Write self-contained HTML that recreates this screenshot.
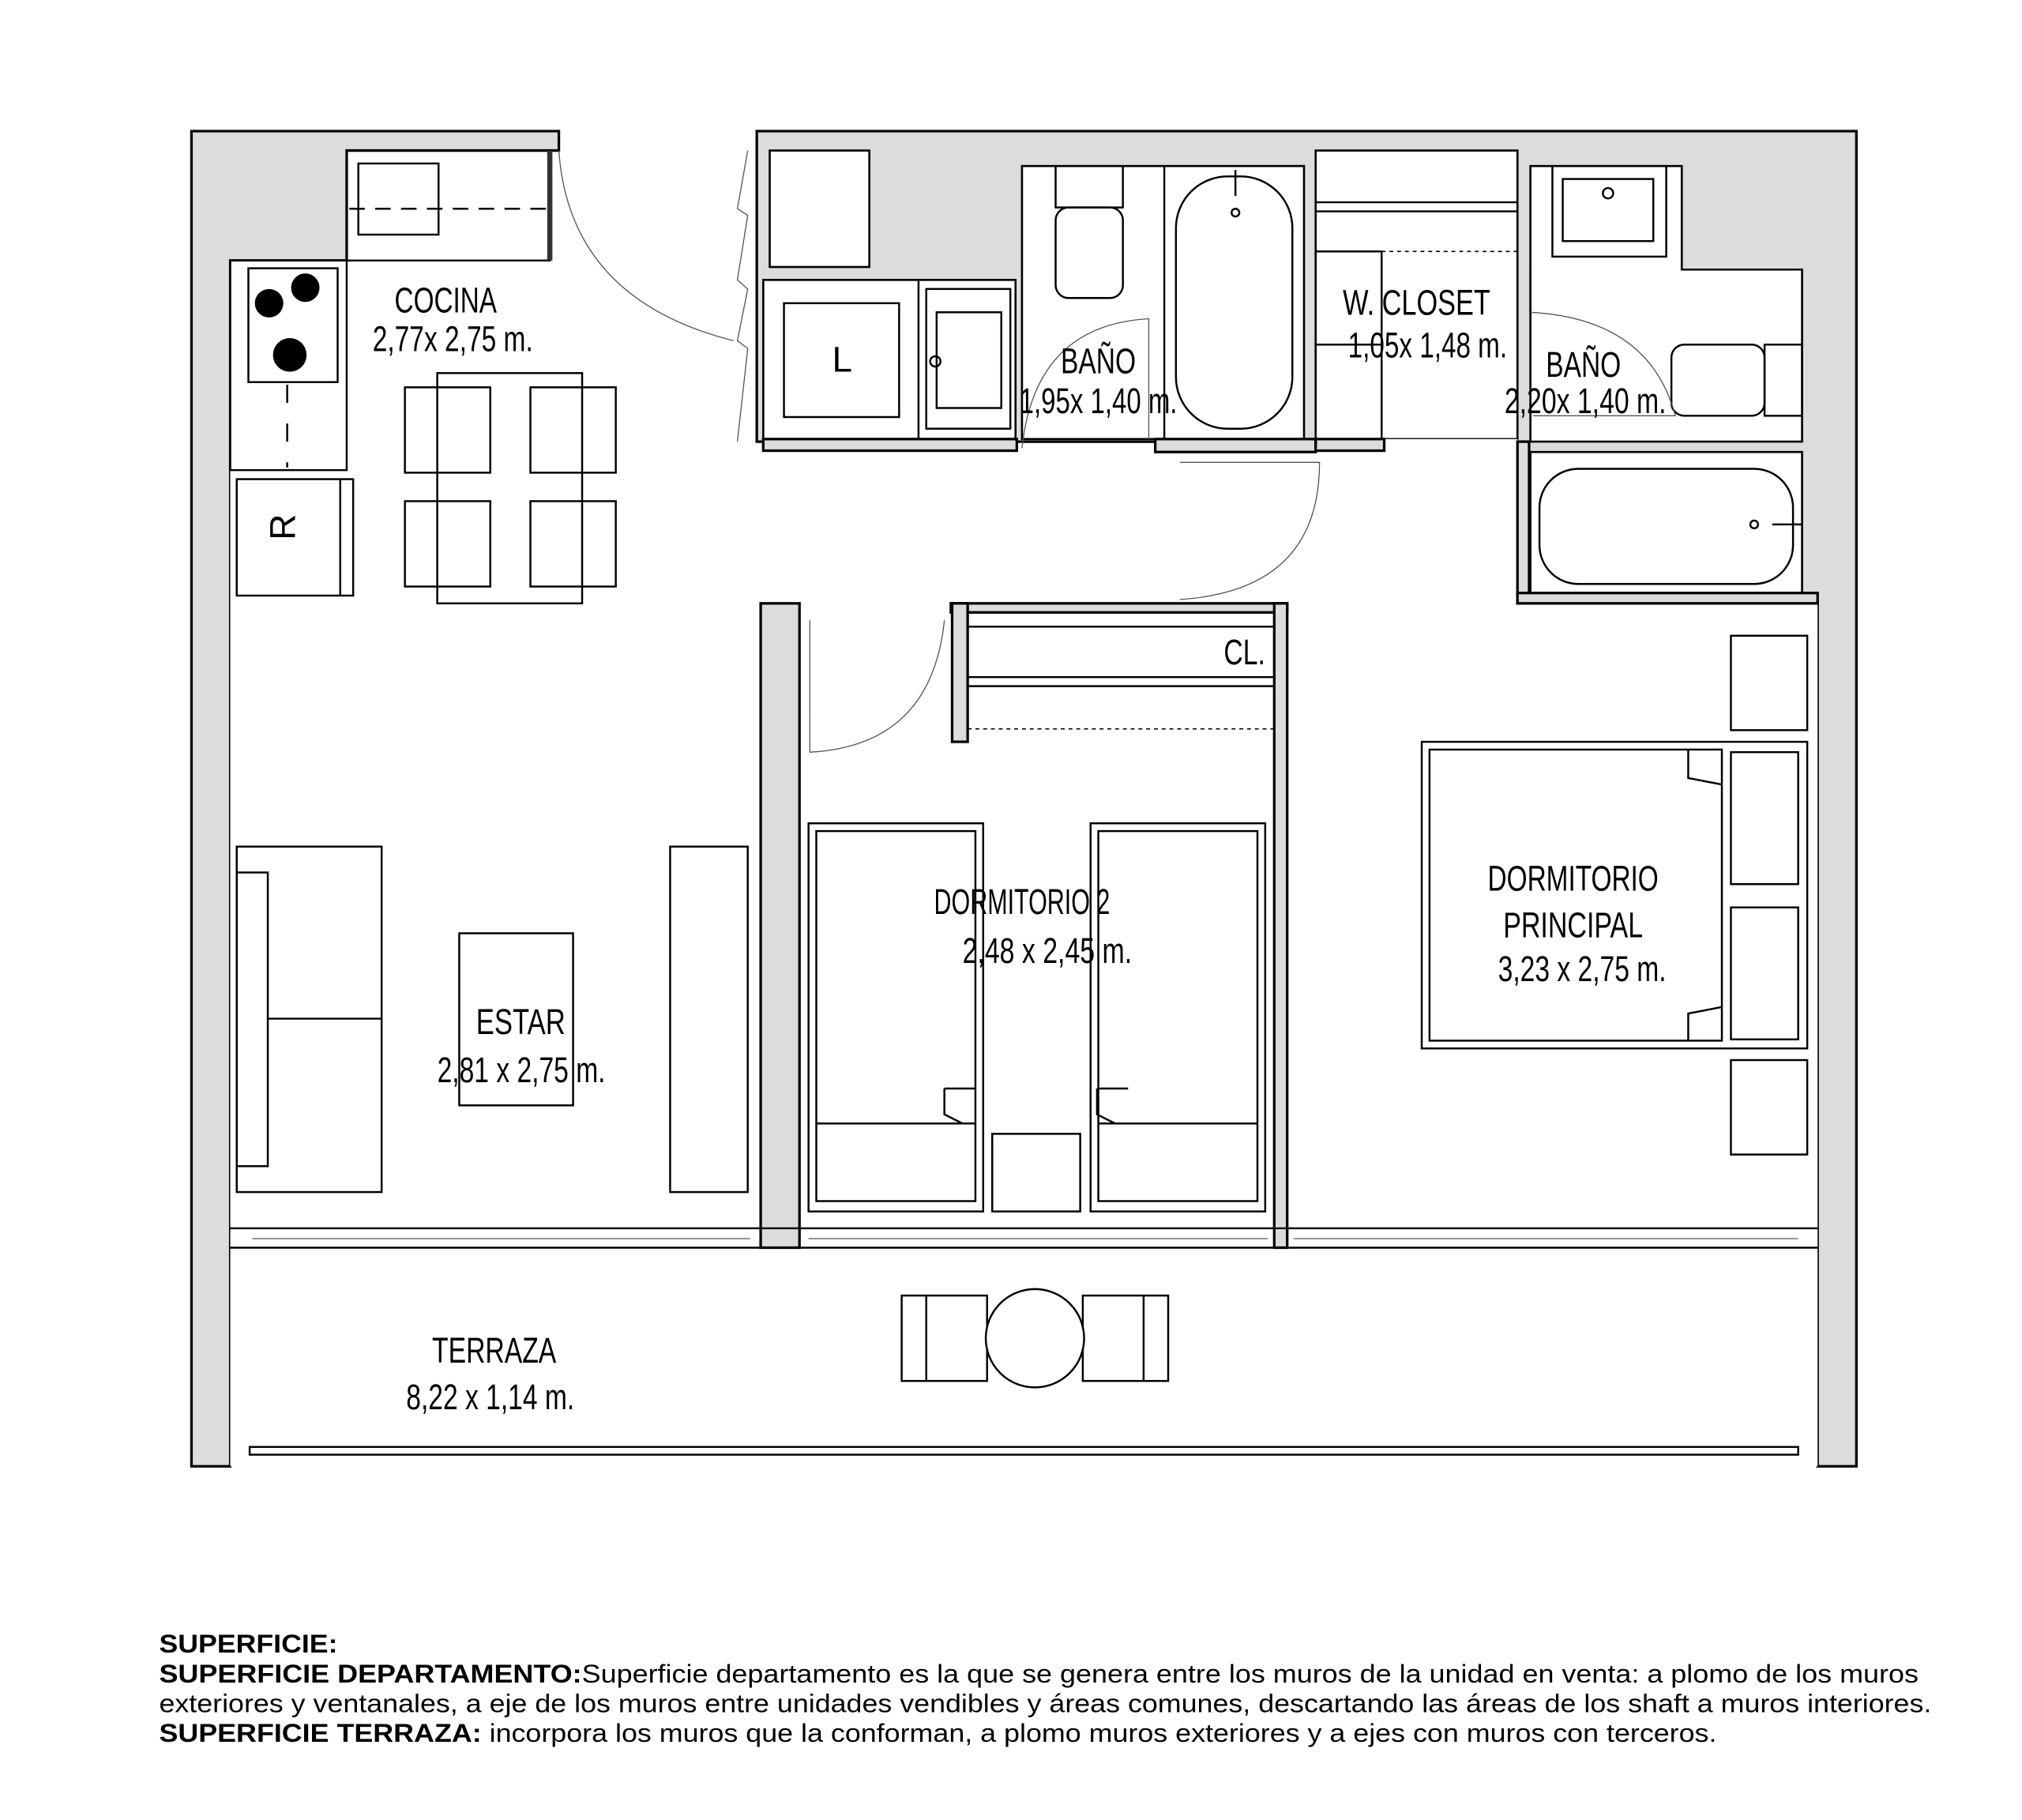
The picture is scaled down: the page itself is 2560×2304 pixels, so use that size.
<!DOCTYPE html>
<html><head><meta charset="utf-8"><style>
html,body{margin:0;padding:0;background:#fff;}
svg{display:block;}
.w{fill:#dcdcdc;stroke:#000;stroke-width:2;}
.r{fill:#fff;stroke:#000;stroke-width:1.6;}
.f{fill:none;stroke:#000;stroke-width:1.5;}
.t{fill:none;stroke:#555;stroke-width:0.8;}
.lb{font-family:"Liberation Sans Narrow","Liberation Sans",sans-serif;font-size:28px;fill:#000;}
.nt{font-family:"Liberation Sans",sans-serif;font-size:20px;fill:#000;}
</style></head><body>
<svg width="2560" height="2304" viewBox="0 0 1563 1404" xmlns="http://www.w3.org/2000/svg">
<rect width="1563" height="1404" fill="#fff"/>
<path class="w" d="M148,100 H432 V115 H268 V200 H178 V1132 H148 Z"/>
<path class="w" d="M585,100 H1435 V1132 H1405 V465 H1173 V340 H585 Z"/>
<rect class="r" x="595" y="115" width="77" height="90"/>
<rect class="r" x="590" y="215" width="195" height="123"/>
<line class="f" x1="710" y1="215" x2="710" y2="338"/>
<path class="r" d="M790,127 H1008 V338 H790 Z"/>
<line class="f" x1="900" y1="127" x2="900" y2="338"/>
<rect class="r" x="1017" y="115" width="156" height="223"/>
<path class="r" d="M1183,127 H1300 V207 H1393 V340 H1183 Z"/>
<rect class="r" x="1183" y="348" width="210" height="109"/>
<path d="M178,200 H268 V347 H590 V338 H785 V347 H1017 V338 H1173 V465 H1405 V1132 H178 Z" fill="#fff" stroke="none"/>
<rect class="w" x="590" y="338" width="196" height="9"/>
<rect class="w" x="893" y="338" width="124" height="10"/>
<rect class="w" x="1017" y="338" width="53" height="9"/>
<rect class="w" x="1173" y="340" width="9" height="125"/>
<rect class="w" x="1173" y="457" width="232" height="8"/>
<line class="f" x1="1183" y1="205" x2="1183" y2="240"/>
<rect class="w" x="588" y="465" width="30" height="498"/>
<rect class="w" x="735" y="465" width="260" height="7"/>
<rect class="w" x="985" y="465" width="10" height="498"/>
<rect class="w" x="736" y="465" width="12" height="107"/>
<rect class="f" x="268" y="115" width="157" height="85"/>
<rect class="f" x="277" y="125" width="62" height="55"/>
<line x1="270" y1="160" x2="423" y2="160" stroke="#000" stroke-width="1.5" stroke-dasharray="12,8"/>
<rect x="423" y="115" width="4" height="85" fill="#333"/>
<rect class="f" x="178" y="200" width="90" height="162"/>
<rect class="f" x="192" y="206" width="69" height="88"/>
<circle cx="208" cy="233" r="11"/><circle cx="236" cy="221" r="11"/><circle cx="224" cy="273" r="13"/>
<line x1="222" y1="296" x2="222" y2="360" stroke="#000" stroke-width="1.5" stroke-dasharray="14,16"/>
<rect class="f" x="183" y="369" width="90" height="90"/><line class="f" x1="263" y1="369" x2="263" y2="459"/>
<text class="lb" x="236" y="414" font-size="22" text-anchor="middle" transform="rotate(-90 228 414)">R</text>
<path class="t" d="M432,115 Q440,230 567,262"/>
<path class="t" d="M578,115 L570,160 L578,165 L570,215 L578,222 L570,262 L578,268 L570,340"/>
<rect class="f" x="606" y="233" width="89" height="88"/>
<text class="lb" x="651" y="286" font-size="22" text-anchor="middle">L</text>
<rect class="f" x="716" y="222" width="65" height="108"/>
<rect class="f" x="724" y="240" width="50" height="74"/>
<circle class="f" cx="723" cy="278" r="4"/>
<rect class="f" x="816" y="127" width="52" height="32"/>
<rect class="f" x="816" y="159" width="52" height="70" rx="10"/>
<rect class="f" x="909" y="135" width="90" height="195" rx="40"/>
<line class="f" x1="955" y1="130" x2="955" y2="150"/><circle class="f" cx="955" cy="163" r="3"/>
<path class="t" d="M790,345 Q800,250 888,245 L888,338"/>
<path class="t" d="M912,356 L1020,356 Q1020,455 912,462"/>
<line class="f" x1="1017" y1="155" x2="1173" y2="155"/><line class="f" x1="1017" y1="162" x2="1173" y2="162"/>
<line x1="1068" y1="193" x2="1173" y2="193" stroke="#000" stroke-dasharray="3,3"/>
<rect class="f" x="1017" y="193" width="51" height="145"/>
<line class="f" x1="1017" y1="265" x2="1068" y2="265"/>
<rect class="f" x="1200" y="127" width="88" height="70"/>
<rect class="f" x="1208" y="137" width="70" height="48"/>
<circle class="f" cx="1243" cy="148" r="4"/>
<rect class="f" x="1292" y="265" width="72" height="55" rx="10"/>
<rect class="f" x="1364" y="265" width="29" height="55"/>
<rect class="f" x="1190" y="361" width="196" height="89" rx="30"/>
<circle class="f" cx="1356" cy="404" r="3"/><line class="f" x1="1370" y1="404" x2="1393" y2="404"/>
<path class="t" d="M1183,240 Q1275,245 1295,320 L1185,320"/>
<rect class="f" x="338" y="287" width="112" height="178"/>
<rect class="f" x="313" y="298" width="66" height="66"/><rect class="f" x="410" y="298" width="66" height="66"/>
<rect class="f" x="313" y="386" width="66" height="66"/><rect class="f" x="410" y="386" width="66" height="66"/>
<path class="t" d="M626,478 L626,580 Q720,575 730,478"/>
<line class="f" x1="748" y1="483" x2="985" y2="483"/><line class="f" x1="748" y1="522" x2="985" y2="522"/>
<line class="f" x1="748" y1="529" x2="985" y2="529"/>
<line x1="748" y1="562" x2="985" y2="562" stroke="#000" stroke-dasharray="3,3"/>
<rect class="f" x="625" y="635" width="135" height="300"/><rect class="f" x="631" y="641" width="123" height="286"/>
<line class="f" x1="631" y1="867" x2="754" y2="867"/>
<rect class="f" x="843" y="635" width="135" height="300"/><rect class="f" x="849" y="641" width="123" height="286"/>
<line class="f" x1="849" y1="867" x2="972" y2="867"/>
<rect class="f" x="767" y="875" width="68" height="60"/>
<path class="f" d="M730,840 L754,840 M730,840 L730,860 L744,867"/>
<path class="f" d="M848,840 L872,840 M848,840 L848,860 L862,867"/>
<rect class="f" x="183" y="653" width="112" height="267"/><rect class="f" x="183" y="673" width="24" height="227"/>
<line class="f" x1="207" y1="786" x2="295" y2="786"/>
<rect class="f" x="355" y="720" width="88" height="133"/>
<rect class="f" x="518" y="653" width="60" height="267"/>
<rect class="f" x="1338" y="490" width="59" height="73"/>
<rect class="f" x="1099" y="572" width="298" height="237"/>
<rect class="f" x="1105" y="578" width="226" height="225"/>
<rect class="f" x="1338" y="580" width="52" height="102"/><rect class="f" x="1338" y="700" width="52" height="102"/>
<path class="f" d="M1305,578 L1305,600 L1331,605"/>
<path class="f" d="M1305,803 L1305,782 L1331,777"/>
<rect class="f" x="1338" y="818" width="59" height="73"/>
<line class="f" x1="178" y1="948" x2="1405" y2="948"/><line class="f" x1="178" y1="963" x2="1405" y2="963"/>
<line class="t" x1="195" y1="956" x2="580" y2="956"/><line class="t" x1="625" y1="956" x2="980" y2="956"/><line class="t" x1="1000" y1="956" x2="1390" y2="956"/>
<rect class="f" x="193" y="1117" width="1197" height="6"/>
<rect class="f" x="697" y="1000" width="66" height="66"/><line class="f" x1="716" y1="1000" x2="716" y2="1066"/>
<rect class="f" x="837" y="1000" width="66" height="66"/><line class="f" x1="884" y1="1000" x2="884" y2="1066"/>
<circle cx="800" cy="1033" r="38" fill="#fff" stroke="#000" stroke-width="1.5"/>
<g class="lb">
<text x="305" y="240" textLength="79" lengthAdjust="spacingAndGlyphs">COCINA</text>
<text x="288" y="270" textLength="124" lengthAdjust="spacingAndGlyphs">2,77x 2,75 m.</text>
<text x="820" y="287" textLength="58" lengthAdjust="spacingAndGlyphs">BAÑO</text>
<text x="788" y="318" textLength="122" lengthAdjust="spacingAndGlyphs">1,95x 1,40 m.</text>
<text x="1038" y="242" textLength="114" lengthAdjust="spacingAndGlyphs">W. CLOSET</text>
<text x="1042" y="275" textLength="123" lengthAdjust="spacingAndGlyphs">1,05x 1,48 m.</text>
<text x="1195" y="290" textLength="58" lengthAdjust="spacingAndGlyphs">BAÑO</text>
<text x="1163" y="318" textLength="125" lengthAdjust="spacingAndGlyphs">2,20x 1,40 m.</text>
<text x="946" y="512" textLength="32" lengthAdjust="spacingAndGlyphs">CL.</text>
<text x="722" y="705" textLength="136" lengthAdjust="spacingAndGlyphs">DORMITORIO 2</text>
<text x="744" y="743" textLength="131" lengthAdjust="spacingAndGlyphs">2,48 x 2,45 m.</text>
<text x="1150" y="687" textLength="132" lengthAdjust="spacingAndGlyphs">DORMITORIO</text>
<text x="1162" y="723" textLength="108" lengthAdjust="spacingAndGlyphs">PRINCIPAL</text>
<text x="1158" y="757" textLength="130" lengthAdjust="spacingAndGlyphs">3,23 x 2,75 m.</text>
<text x="368" y="798" textLength="69" lengthAdjust="spacingAndGlyphs">ESTAR</text>
<text x="338" y="835" textLength="130" lengthAdjust="spacingAndGlyphs">2,81 x 2,75 m.</text>
<text x="334" y="1052" textLength="96" lengthAdjust="spacingAndGlyphs">TERRAZA</text>
<text x="314" y="1088" textLength="130" lengthAdjust="spacingAndGlyphs">8,22 x 1,14 m.</text>
</g>
<text class="nt" x="123" y="1276" font-weight="bold" textLength="138" lengthAdjust="spacingAndGlyphs">SUPERFICIE:</text>
<text class="nt" x="123" y="1299" textLength="1360" lengthAdjust="spacingAndGlyphs"><tspan font-weight="bold">SUPERFICIE DEPARTAMENTO:</tspan>Superficie departamento es la que se genera entre los muros de la unidad en venta: a plomo de los muros</text>
<text class="nt" x="123" y="1322" textLength="1370" lengthAdjust="spacingAndGlyphs">exteriores y ventanales, a eje de los muros entre unidades vendibles y áreas comunes, descartando las áreas de los shaft a muros interiores.</text>
<text class="nt" x="123" y="1345" textLength="1204" lengthAdjust="spacingAndGlyphs"><tspan font-weight="bold">SUPERFICIE TERRAZA:</tspan> incorpora los muros que la conforman, a plomo muros exteriores y a ejes con muros con terceros.</text>
</svg>
</body></html>
